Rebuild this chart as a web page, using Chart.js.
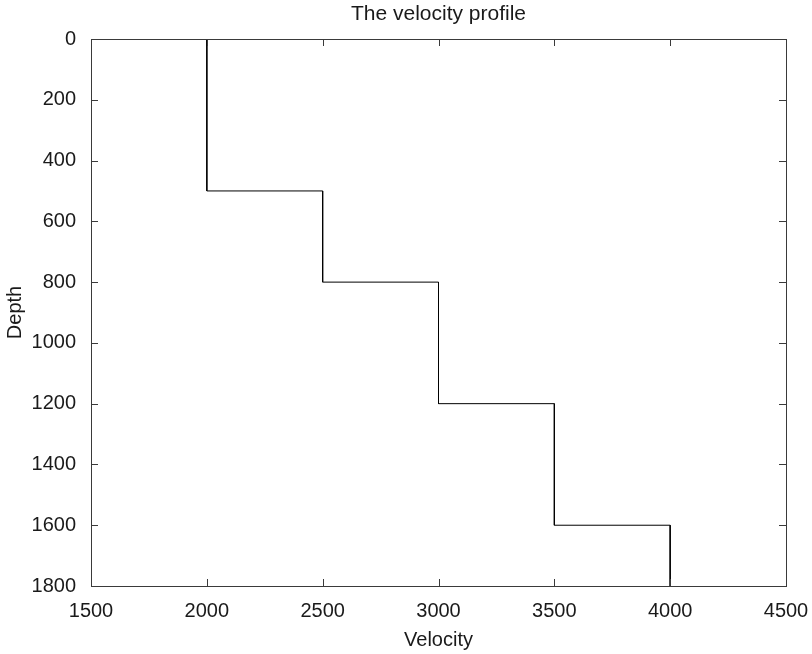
<!DOCTYPE html>
<html>
<head>
<meta charset="utf-8">
<script src="https://cdn.jsdelivr.net/npm/chart.js@4.4.1/dist/chart.umd.min.js"></script>
<style>
  html, body { margin: 0; padding: 0; background: #ffffff; }
  #wrap { width: 812px; height: 654px; }
</style>
</head>
<body>
<div id="wrap"><canvas id="c" width="812" height="654"></canvas></div>
<script>
// Layered velocity model: each layer has a top depth, a bottom depth and a velocity
const layerTop = [0, 500, 800, 1200, 1600];
const layerBottom = [500, 800, 1200, 1600, 1800];
const layerVelocity = [2000, 2500, 3000, 3500, 4000];

const xTicks = [1500, 2000, 2500, 3000, 3500, 4000, 4500];
const yTicks = [0, 200, 400, 600, 800, 1000, 1200, 1400, 1600, 1800];

const titleText = 'The velocity profile';
const xTitle = 'Velocity';
const yTitle = 'Depth';

// Build the step-profile point list from the layers
const profile = [];
for (let i = 0; i < layerVelocity.length; i++) {
  profile.push({ x: layerVelocity[i], y: layerTop[i] });
  profile.push({ x: layerVelocity[i], y: layerBottom[i] });
}

const FONT = 'Arimo, "Liberation Sans", Arial, Helvetica, sans-serif';
const TEXT = '#1a1a1a';
const FRAME = '#3a3a3a';
const TICK_LEN = 7;

const framePlugin = {
  id: 'frame',
  afterDraw(chart) {
    const { ctx, chartArea: a, scales } = chart;
    ctx.save();
    ctx.strokeStyle = FRAME;
    ctx.lineWidth = 1;
    ctx.beginPath();
    const xs = scales.x, ys = scales.y;
    xs.ticks.forEach(t => {
      const px = Math.round(xs.getPixelForValue(t.value)) + 0.5;
      if (px <= a.left + 1 || px >= a.right - 1) return;
      ctx.moveTo(px, a.bottom); ctx.lineTo(px, a.bottom - TICK_LEN);
      ctx.moveTo(px, a.top); ctx.lineTo(px, a.top + TICK_LEN);
    });
    ys.ticks.forEach(t => {
      const py = Math.round(ys.getPixelForValue(t.value)) + 0.5;
      if (py <= a.top + 1 || py >= a.bottom - 1) return;
      ctx.moveTo(a.left, py); ctx.lineTo(a.left + TICK_LEN, py);
      ctx.moveTo(a.right, py); ctx.lineTo(a.right - TICK_LEN, py);
    });
    ctx.stroke();
    ctx.strokeRect(Math.round(a.left) + 0.5, Math.round(a.top) + 0.5,
                   Math.round(a.right - a.left), Math.round(a.bottom - a.top));
    ctx.restore();
  }
};

new Chart(document.getElementById('c'), {
  type: 'scatter',
  data: {
    datasets: [{
      data: profile,
      showLine: true,
      borderColor: '#000000',
      borderWidth: 1,
      pointRadius: 0,
      fill: false,
      tension: 0
    }]
  },
  options: {
    responsive: false,
    animation: false,
    devicePixelRatio: 1,
    layout: { padding: { left: 0, right: 26, top: 0, bottom: 0 } },
    plugins: {
      legend: { display: false },
      tooltip: { enabled: false },
      title: {
        display: true,
        fullSize: false,
        text: titleText,
        color: TEXT,
        font: { family: FONT, size: 21, weight: 'normal' },
        padding: { top: 1.8, bottom: 12 }
      }
    },
    scales: {
      x: {
        type: 'linear',
        position: 'bottom',
        min: 1500,
        max: 4500,
        afterBuildTicks(scale) { scale.ticks = xTicks.map(v => ({ value: v })); },
        ticks: {
          color: TEXT,
          font: { family: FONT, size: 20 },
          padding: 13.5,
          maxRotation: 0,
          autoSkip: false,
          callback: v => String(v)
        },
        grid: { display: false, drawTicks: false },
        border: { display: false },
        title: {
          display: true,
          text: xTitle,
          color: TEXT,
          font: { family: FONT, size: 20 },
          padding: { top: 0, bottom: 2 }
        },
        afterFit(scale) {
          scale.height = 68;
          scale.paddingLeft = 0;
          scale.paddingRight = 0;
        }
      },
      y: {
        type: 'linear',
        position: 'left',
        reverse: true,
        min: 0,
        max: 1800,
        afterBuildTicks(scale) { scale.ticks = yTicks.map(v => ({ value: v })); },
        ticks: {
          color: TEXT,
          font: { family: FONT, size: 20 },
          padding: 15,
          autoSkip: false,
          callback: v => String(v)
        },
        grid: { display: false, drawTicks: false },
        border: { display: false },
        title: {
          display: true,
          text: yTitle,
          color: TEXT,
          font: { family: FONT, size: 20 },
          padding: { top: 3, bottom: 0 }
        },
        afterFit(scale) {
          scale.width = 91;
          scale.paddingTop = 0;
          scale.paddingBottom = 0;
        }
      }
    }
  },
  plugins: [framePlugin]
});
</script>
</body>
</html>
